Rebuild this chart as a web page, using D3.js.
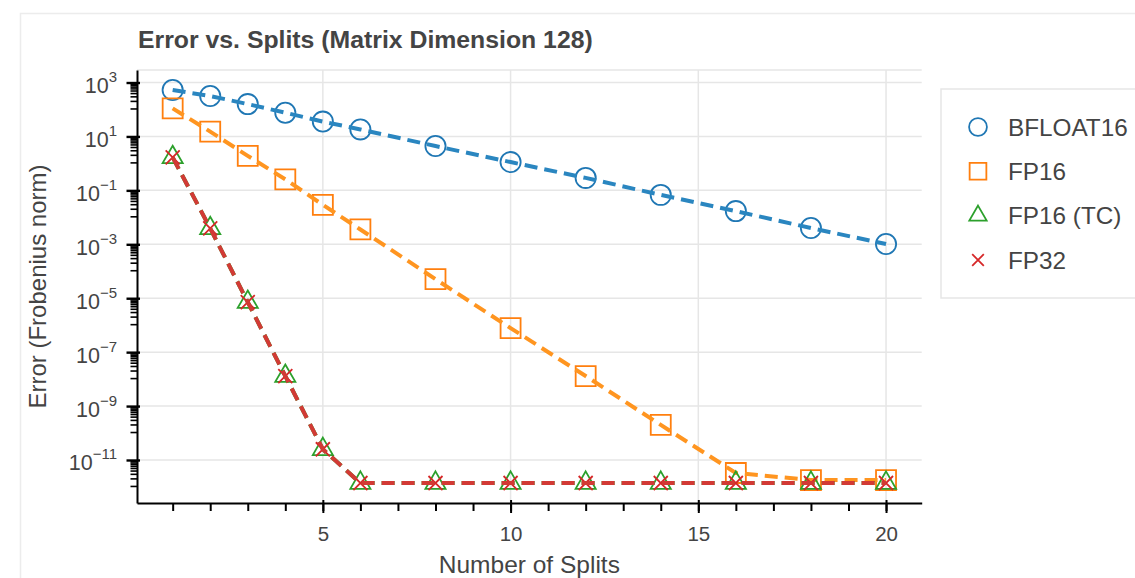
<!DOCTYPE html>
<html>
<head>
<meta charset="utf-8">
<script src="https://cdn.jsdelivr.net/npm/d3@7"></script>
<style>
    body { margin: 0; background: #fff; }
    svg { font-family: "Liberation Sans", Arial, Helvetica, sans-serif; }
</style>
</head>
<body>
<div id="visualization"></div>
<script>
// Number of splits (x values)
const splits = [1, 2, 3, 4, 5, 6, 8, 10, 12, 14, 16, 18, 20];

// Error per precision
const bfloat16 = [525, 316, 158, 76, 35.5, 18.2, 4.4, 1.12, 0.29, 0.068, 0.017, 0.004, 0.00102];
const fp16 = [110, 15.1, 1.9, 0.257, 0.029, 0.00355, 5.1e-5, 7.8e-7, 1.3e-8, 2.0e-10, 3.3e-12, 1.8e-12, 1.8e-12];
const fp16tc = [1.68, 0.0039, 7.2e-6, 1.3e-8, 2.5e-11, 1.4e-12, 1.4e-12, 1.4e-12, 1.4e-12, 1.4e-12, 1.4e-12, 1.4e-12, 1.4e-12];
const fp32 = [1.68, 0.0039, 7.2e-6, 1.3e-8, 2.5e-11, 1.4e-12, 1.4e-12, 1.4e-12, 1.4e-12, 1.4e-12, 1.4e-12, 1.4e-12, 1.4e-12];

const seriesNames = ["BFLOAT16", "FP16", "FP16 (TC)", "FP32"];

// Tick labels
const xMajorTicks = [5, 10, 15, 20];
const xMinorTicks = d3.range(1, 21);
const yMajorExponents = [3, 1, -1, -3, -5, -7, -9, -11];

const width = 1135;
const height = 578;
const plotLeft = 137, plotRight = 921.7, plotTop = 70, plotBottom = 503;

const svg = d3.select("#visualization").append("svg")
    .attr("width", width)
    .attr("height", height);

// Outer card border
svg.append("rect")
    .attr("x", 20.5).attr("y", 13.5)
    .attr("width", 1300).attr("height", 800)
    .attr("fill", "none")
    .attr("stroke", "#ececec")
    .attr("stroke-width", 1.5);

// Scales
let xScale = d3.scaleLinear()
    .domain([0.05, 20.95])
    .range([plotLeft, plotRight]);
let yScale = d3.scaleLog()
    .domain([Math.pow(10, -12.595), Math.pow(10, 3.464)])
    .range([plotBottom, plotTop]);

// Gridlines
let grid = svg.append("g").attr("stroke", "#e6e6e6").attr("stroke-width", 1.5);
grid.selectAll(".gx")
    .data(xMajorTicks)
    .enter().append("line")
        .attr("x1", d => xScale(d)).attr("x2", d => xScale(d))
        .attr("y1", plotTop).attr("y2", plotBottom);
grid.selectAll(".gy")
    .data(yMajorExponents)
    .enter().append("line")
        .attr("x1", plotLeft).attr("x2", plotRight)
        .attr("y1", d => yScale(Math.pow(10, d))).attr("y2", d => yScale(Math.pow(10, d)));
grid.append("line")
    .attr("x1", plotLeft).attr("x2", plotRight)
    .attr("y1", plotTop).attr("y2", plotTop);

// Series setup
let series = [
    { name: seriesNames[0], values: bfloat16, color: "#1f77b4", line: "#2a86c0", symbol: d3.symbolCircle, size: 320 },
    { name: seriesNames[1], values: fp16, color: "#ff7f0e", line: "#ff9520", symbol: d3.symbolSquare, size: 400 },
    { name: seriesNames[2], values: fp16tc, color: "#2ca02c", line: "#2ca02c", symbol: d3.symbolTriangle, size: 175 },
    { name: seriesNames[3], values: fp32, color: "#d62728", line: "#d23a35", symbol: d3.symbolTimes, size: 130 }
];

let line = d3.line()
    .x(d => xScale(d[0]))
    .y(d => yScale(d[1]));

series.forEach(s => {
    let points = splits.map((x, i) => [x, s.values[i]]);
    let symbol = d3.symbol().type(s.symbol).size(s.size);
    svg.append("g").selectAll("path")
        .data(points)
        .enter().append("path")
            .attr("d", symbol)
            .attr("transform", d => "translate(" + xScale(d[0]) + "," + yScale(d[1]) + ")")
            .attr("fill", "none")
            .attr("stroke", s.color)
            .attr("stroke-width", 1.8);
    svg.append("path")
        .datum(points)
        .attr("d", line)
        .attr("fill", "none")
        .attr("stroke", s.line)
        .attr("stroke-width", 4)
        .attr("stroke-dasharray", "13,7");
});

// X axis: minor ticks then major ticks with labels
svg.append("g")
    .attr("transform", "translate(0," + plotBottom + ")")
    .call(d3.axisBottom(xScale).tickValues(xMinorTicks).tickSize(8).tickFormat(""))
    .call(g => g.select(".domain").remove())
    .selectAll("line").attr("stroke", "#000").attr("stroke-width", 2);

let xAxis = svg.append("g")
    .attr("transform", "translate(0," + plotBottom + ")")
    .call(d3.axisBottom(xScale).tickValues(xMajorTicks).tickSizeInner(10).tickSizeOuter(0).tickPadding(13));
xAxis.select(".domain").attr("stroke", "#000").attr("stroke-width", 2);
xAxis.selectAll("line").attr("stroke", "#000").attr("stroke-width", 2).attr("y1", -3);
xAxis.selectAll("text")
    .attr("font-size", 20.5)
    .attr("fill", "#444");

// Y axis minor ticks: nine even steps between each pair of major ticks
let yMinorTicks = [];
yMajorExponents.concat([-13]).forEach(e => {
    let hi = Math.pow(10, e), lo = Math.pow(10, e - 2);
    for (let k = 1; k <= 9; k++) {
        let v = lo + (hi - lo) * k / 10;
        if (v >= yScale.domain()[0] && v <= yScale.domain()[1]) yMinorTicks.push(v);
    }
});

svg.append("g")
    .attr("transform", "translate(" + plotLeft + ",0)")
    .call(d3.axisLeft(yScale).tickValues(yMinorTicks).tickSize(6.5).tickFormat(""))
    .call(g => g.select(".domain").remove())
    .selectAll("line").attr("stroke", "#000").attr("stroke-width", 1.6);

let yAxis = svg.append("g")
    .attr("transform", "translate(" + plotLeft + ",0)")
    .call(d3.axisLeft(yScale)
        .tickValues(yMajorExponents.map(e => Math.pow(10, e)))
        .tickSizeInner(10.5).tickSizeOuter(0).tickFormat(""));
yAxis.select(".domain").attr("stroke", "#000").attr("stroke-width", 2);
yAxis.selectAll("line").attr("stroke", "#000").attr("stroke-width", 2.4).attr("x1", 3);

// Y tick labels as 10 with a superscript exponent
let yLabels = svg.append("g")
    .attr("fill", "#444")
    .attr("text-anchor", "end");
yLabels.selectAll("text")
    .data(yMajorExponents)
    .enter().append("text")
        .attr("x", plotLeft - 20)
        .attr("y", d => yScale(Math.pow(10, d)) + 10.5)
        .attr("font-size", 21.5)
        .each(function(d) {
            let t = d3.select(this);
            t.append("tspan").text("10");
            t.append("tspan")
                .attr("dy", -11)
                .attr("font-size", 15)
                .text(String(d).replace("-", "\u2212"));
        });

// Title and axis labels
svg.append("text")
    .attr("x", 138).attr("y", 48)
    .attr("font-size", 24.8)
    .attr("font-weight", "bold")
    .attr("fill", "#444")
    .text("Error vs. Splits (Matrix Dimension 128)");

svg.append("text")
    .attr("x", (plotLeft + plotRight) / 2).attr("y", 573)
    .attr("text-anchor", "middle")
    .attr("font-size", 24.5)
    .attr("fill", "#444")
    .text("Number of Splits");

svg.append("text")
    .attr("transform", "translate(46," + (plotTop + plotBottom) / 2 + ") rotate(-90)")
    .attr("text-anchor", "middle")
    .attr("font-size", 24)
    .attr("fill", "#444")
    .text("Error (Frobenius norm)");

// Legend
let legend = svg.append("g");
legend.append("rect")
    .attr("x", 941).attr("y", 89)
    .attr("width", 300).attr("height", 209)
    .attr("fill", "#fff")
    .attr("stroke", "#e6e6e6")
    .attr("stroke-width", 1.5);

let legendY = d3.scalePoint()
    .domain(seriesNames)
    .range([127, 260]);
let legendSizes = [250, 280, 130, 90];

series.forEach((s, i) => {
    legend.append("path")
        .attr("d", d3.symbol().type(s.symbol).size(legendSizes[i]))
        .attr("transform", "translate(978," + legendY(s.name) + ")")
        .attr("fill", "none")
        .attr("stroke", s.color)
        .attr("stroke-width", 1.8);
    legend.append("text")
        .attr("x", 1008)
        .attr("y", legendY(s.name))
        .attr("dy", "0.35em")
        .attr("font-size", 24.3)
        .attr("fill", "#444")
        .text(s.name);
});
</script>
</body>
</html>
